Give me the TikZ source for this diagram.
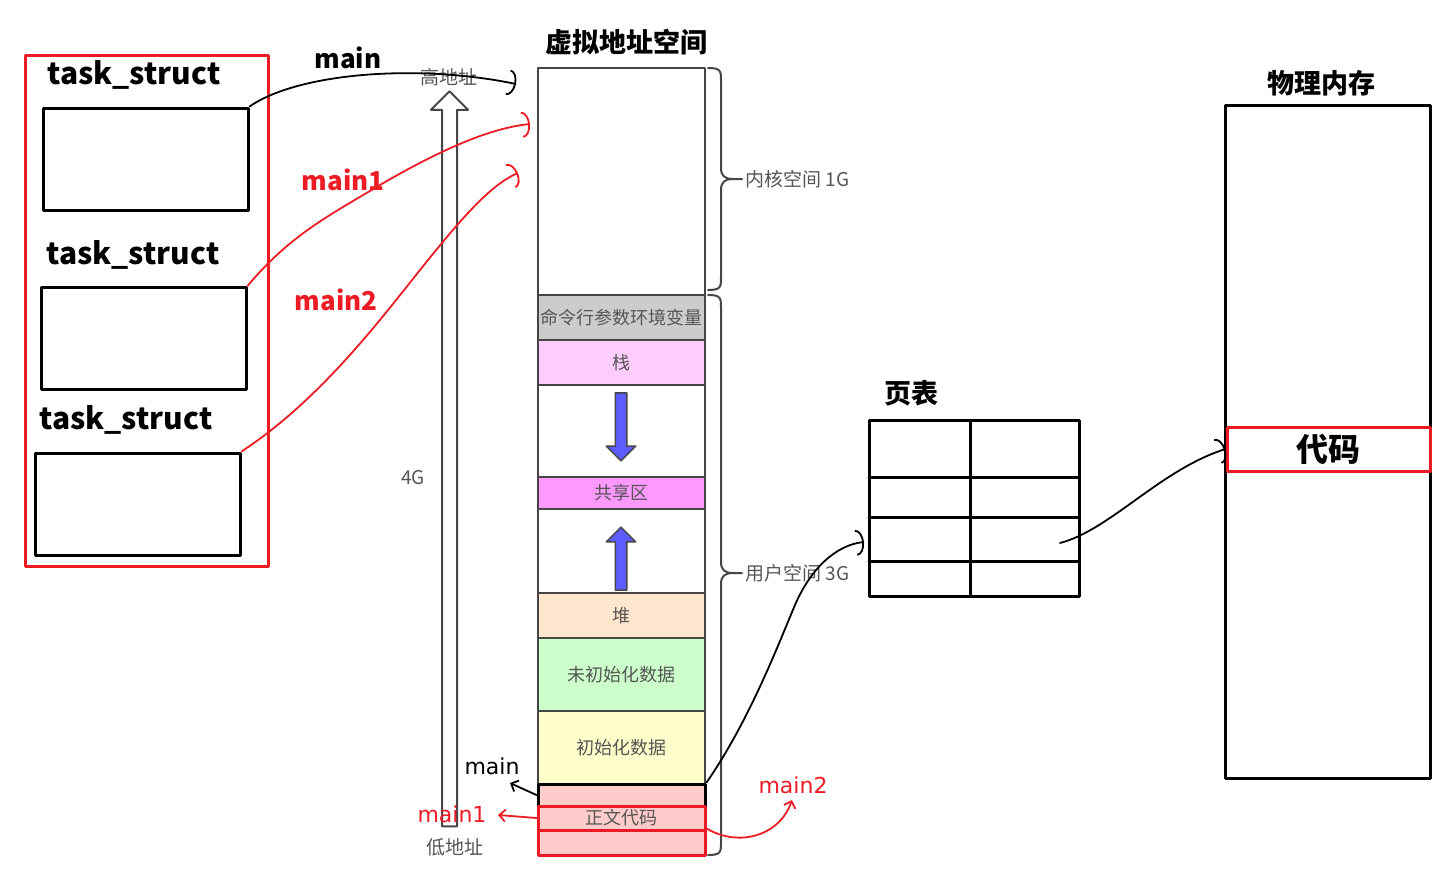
\documentclass[tikz,border=0pt]{standalone}
\usepackage{fontspec}
\setmainfont{Noto Sans CJK SC}
\newfontfamily\handfont{DejaVu Sans}
\usetikzlibrary{positioning,arrows.meta,shapes.arrows}
\definecolor{pen}{RGB}{237,28,36}
\definecolor{segline}{RGB}{70,70,70}
\definecolor{graytxt}{RGB}{85,85,85}
\definecolor{cmdgray}{RGB}{204,204,204}
\definecolor{stackpink}{RGB}{255,204,255}
\definecolor{sharedpink}{RGB}{255,153,255}
\definecolor{heapbeige}{RGB}{255,230,204}
\definecolor{bssgreen}{RGB}{204,255,204}
\definecolor{datayellow}{RGB}{255,255,204}
\definecolor{textred}{RGB}{255,204,204}
\definecolor{arrowblue}{RGB}{92,92,255}
% side brace: x, top, middle, bottom
\newcommand\sidebrace[4]{%
  \draw[bracepen] (#1,#2) .. controls (#1+13,#2) and (#1+13,#2+3) .. (#1+13,#2+13) -- (#1+13,#3-11)
    .. controls (#1+13,#3-3) and (#1+17,#3) .. (#1+25,#3) -- (#1+34,#3);
  \draw[bracepen] (#1,#4) .. controls (#1+13,#4) and (#1+13,#4-3) .. (#1+13,#4-13) -- (#1+13,#3+11)
    .. controls (#1+13,#3+3) and (#1+17,#3) .. (#1+25,#3);}
\begin{document}
\begin{tikzpicture}[x=1pt, y=-1pt, line join=round, line cap=round,
  taskbox/.style={draw, line width=3pt, minimum width=205pt, minimum height=102pt, inner sep=0pt},
  tasklabel/.style={font=\fontsize{30}{34}\selectfont\bfseries},
  title/.style={font=\fontsize{27}{30}\selectfont\bfseries},
  seg/.style={draw=segline, line width=2pt, minimum width=167pt, inner sep=0pt, text=graytxt, font=\fontsize{18}{20}\selectfont},
  graylabel/.style={text=graytxt, font=\fontsize{19}{21}\selectfont},
  bracepen/.style={segline, line width=2pt},
  flow/.style={single arrow, draw=segline, fill=arrowblue, line width=1.5pt, inner sep=5pt, single arrow head extend=9pt},
  hand/.style={line width=1.8pt},
  barbed/.style={-{Arc Barb[length=8pt, width=26pt]}},
  handtext/.style={font=\handfont\fontsize{22}{24}\selectfont}]
\useasboundingbox (0,0) rectangle (1449,876);
% task_struct column
\draw[pen, line width=3pt] (25,55) rectangle (268,566);
\node[tasklabel] (t1) at (134,75) {task\_struct};
\node[taskbox] (box1) at (145.5,159) {};
\node[tasklabel] (t2) at (133,255) {task\_struct};
\node[taskbox] (box2) at (143.5,338.5) {};
\node[tasklabel] (t3) at (126,420) {task\_struct};
\node[taskbox] (box3) at (137.5,504) {};
\node[font=\fontsize{26}{28}\selectfont\bfseries] (lmain) at (348,58) {main};
\node[font=\fontsize{26}{28}\selectfont\bfseries, text=pen] (lmain1) at (343,180) {main1};
\node[font=\fontsize{26}{28}\selectfont\bfseries, text=pen] (lmain2) at (336,300) {main2};
% address arrow
\node[single arrow, draw=segline, fill=white, line width=2pt, inner sep=6.5pt, single arrow head extend=11pt, minimum height=735pt, rotate=90] (addr) at (449.5,462.5) {};
\node[graylabel] (high) at (449,77) {高地址};
\node[graylabel] (low) at (455,847) {低地址};
\node[graylabel] (four) at (413,478) {4G};
% virtual address space
\node[title] (vtitle) at (626,42) {虚拟地址空间};
\node[seg, fill=white, minimum height=227pt] (kernel) at (621.5,181.5) {};
\node[seg, fill=cmdgray, minimum height=45pt] (cmd) at (621.5,317.5) {命令行参数环境变量};
\node[seg, fill=stackpink, minimum height=45pt] (stack) at (621.5,362.5) {栈};
\node[seg, fill=white, minimum height=92pt] (gap1) at (621.5,431) {};
\node[seg, fill=sharedpink, minimum height=32pt] (shared) at (621.5,493) {共享区};
\node[seg, fill=white, minimum height=84pt] (gap2) at (621.5,551) {};
\node[seg, fill=heapbeige, minimum height=45pt] (heap) at (621.5,615.5) {堆};
\node[seg, fill=bssgreen, minimum height=73pt] (bss) at (621.5,674.5) {未初始化数据};
\node[seg, fill=datayellow, minimum height=73pt] (data) at (621.5,747.5) {初始化数据};
\node[seg, fill=textred, minimum height=71pt] (text) at (621.5,819.5) {};
\node[draw, line width=3pt, minimum width=167pt, minimum height=22pt, inner sep=0pt] (textblk) at (621.5,795) {};
\node[draw=pen, line width=3pt, minimum width=167pt, minimum height=24pt, inner sep=0pt, text=graytxt, font=\fontsize{18}{20}\selectfont] (textmid) at (621.5,818) {正文代码};
\node[draw=pen, line width=3pt, minimum width=167pt, minimum height=25pt, inner sep=0pt] (textlow) at (621.5,842.5) {};
\node[flow, rotate=-90, minimum height=68pt] (down) at (621,424) {};
\node[flow, rotate=90, minimum height=63pt] (up) at (621,561.5) {};
\sidebrace{708}{68}{179}{290}
\sidebrace{708}{295}{573}{855}
\node[graylabel, anchor=west] (kspace) at (742,179) {内核空间 1G};
\node[graylabel, anchor=west] (uspace) at (742,573) {用户空间 3G};
% page table
\node[title] (pttitle) at (911,393) {页表};
\node[draw, line width=3pt, minimum width=210pt, minimum height=176pt, inner sep=0pt] (pt) at (974,508) {};
\draw[line width=3pt] (970,420) -- (970,596);
\draw[line width=3pt] (869,477) -- (1079,477);
\draw[line width=3pt] (869,517) -- (1079,517);
\draw[line width=3pt] (869,561) -- (1079,561);
% physical memory
\node[title] (ptitle) at (1321,83) {物理内存};
\node[draw, line width=3pt, minimum width=205pt, minimum height=673pt, inner sep=0pt] (phys) at (1327.5,441.5) {};
\node[draw=pen, line width=3pt, minimum width=203pt, minimum height=44pt, inner sep=0pt, font=\fontsize{32}{34}\selectfont\bfseries] (code) at (1328.5,449) {代码};
% hand drawn links
\coordinate (hi) at (516,84);
\coordinate (k1) at (530,124);
\coordinate (k2) at (518,173);
\coordinate (pte) at (864,542);
\coordinate (entry) at (1060,543);
\draw[hand, barbed] (box1.north east) .. controls (300,72) and (420,64) .. (hi);
\draw[hand, pen, barbed] (box2.north east) .. controls (290,235) and (330,215) .. (380,185) .. controls (440,150) and (490,128) .. (k1);
\draw[hand, pen, barbed] (box3.north east) .. controls (320,400) and (380,320) .. (420,270) .. controls (460,220) and (490,185) .. (k2);
\draw[hand, barbed] (textblk.north east) .. controls (750,720) and (780,640) .. (795,605) .. controls (810,570) and (835,545) .. (pte);
\draw[hand, barbed] (entry) .. controls (1110,530) and (1160,470) .. (code.west);
\draw[hand, -{Straight Barb[length=6pt, width=12pt]}] (textblk.west) -- (510,783);
\draw[hand, pen, -{Straight Barb[length=6pt, width=12pt]}] (textmid.west) -- (498,815);
\draw[hand, pen, -{Straight Barb[length=6pt, width=12pt]}] (textlow.north east) .. controls (740,848) and (780,835) .. (792,800);
\node[handtext] (hmain) at (492,766) {main};
\node[handtext, text=pen] (hmain1) at (452,814) {main1};
\node[handtext, text=pen] (hmain2) at (793,785) {main2};
\end{tikzpicture}
\end{document}
